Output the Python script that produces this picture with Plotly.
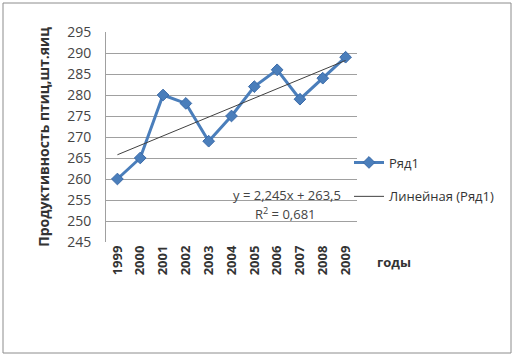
import numpy as np
import plotly.graph_objects as go

years = ["1999", "2000", "2001", "2002", "2003", "2004", "2005", "2006", "2007", "2008", "2009"]
values = [260, 265, 280, 278, 269, 275, 282, 286, 279, 284, 289]
y_ticks = [245, 250, 255, 260, 265, 270, 275, 280, 285, 290, 295]

idx = np.arange(1, len(values) + 1)
slope, intercept = np.polyfit(idx, values, 1)
trend = slope * idx + intercept

font = "Open Sans"
fig = go.Figure()
fig.add_trace(go.Scatter(
    x=years, y=values, mode="lines+markers", name="Ряд1",
    line=dict(color="#4a7ebb", width=3),
    marker=dict(symbol="diamond", size=9, color="#4a7ebb", line=dict(color="#3a6aa8", width=1)),
    legendgroup="a",
))
fig.add_trace(go.Scatter(
    x=years, y=trend, mode="lines", name="Линейная (Ряд1)",
    line=dict(color="#404040", width=1),
    legendgroup="b",
))

fig.update_layout(
    width=515, height=358,
    margin=dict(l=106, r=158, t=32, b=116),
    paper_bgcolor="white", plot_bgcolor="white",
    font=dict(family=font, color="#333333"),
    showlegend=True,
    legend=dict(x=(349 - 106) / 251, xanchor="left", y=0.45, yanchor="top",
                font=dict(size=13, family=font, color="#333333"),
                tracegroupgap=14, bgcolor="rgba(0,0,0,0)", itemwidth=30),
    xaxis=dict(
        type="category", range=[-0.5, 10.5], tickangle=-90, automargin=False,
        tickfont=dict(size=13, family=font, color="#333333", weight="bold"),
        showgrid=False, showline=False, ticks="", zeroline=False,
    ),
    yaxis=dict(
        range=[245, 295], tickvals=y_ticks, ticktext=[str(v) for v in y_ticks],
        tickfont=dict(size=14, family=font, color="#444444"),
        showgrid=True, gridcolor="#a0a0a0", gridwidth=1, automargin=False,
        showline=True, linecolor="#a0a0a0", linewidth=1,
        ticks="outside", ticklen=11, tickcolor="rgba(0,0,0,0)", zeroline=False,
        title=dict(text="<b>Продуктивность птиц,шт.яиц</b>", font=dict(size=14, family=font, color="#333333"), standoff=14),
    ),
)

fig.add_annotation(text="<b>годы</b>", xref="paper", yref="paper", x=(394 - 106) / 251, y=(242 - 262) / 210,
                   xanchor="center", yanchor="middle",
                   showarrow=False, font=dict(size=13, family=font, color="#333333"))
fig.add_annotation(text="y = 2,245x + 263,5", xref="paper", yref="paper", x=(287 - 106) / 251, y=(242 - 195) / 210,
                   xanchor="center", yanchor="middle",
                   showarrow=False, font=dict(size=13, family=font, color="#444444"))
fig.add_annotation(text="R<sup>2</sup> = 0,681", xref="paper", yref="paper", x=(285 - 106) / 251, y=(242 - 213) / 210,
                   xanchor="center", yanchor="middle",
                   showarrow=False, font=dict(size=13, family=font, color="#444444"))

fig.add_shape(type="rect", xref="paper", yref="paper",
              x0=(3 - 106) / 251, x1=(511 - 106) / 251, y0=(242 - 353) / 210, y1=(242 - 3) / 210,
              line=dict(color="#8c8c8c", width=1), fillcolor="rgba(0,0,0,0)", layer="above")

fig.write_html("out.html", config={"displayModeBar": False},
               post_script="document.body.style.margin='0';document.body.style.overflow='hidden';")
